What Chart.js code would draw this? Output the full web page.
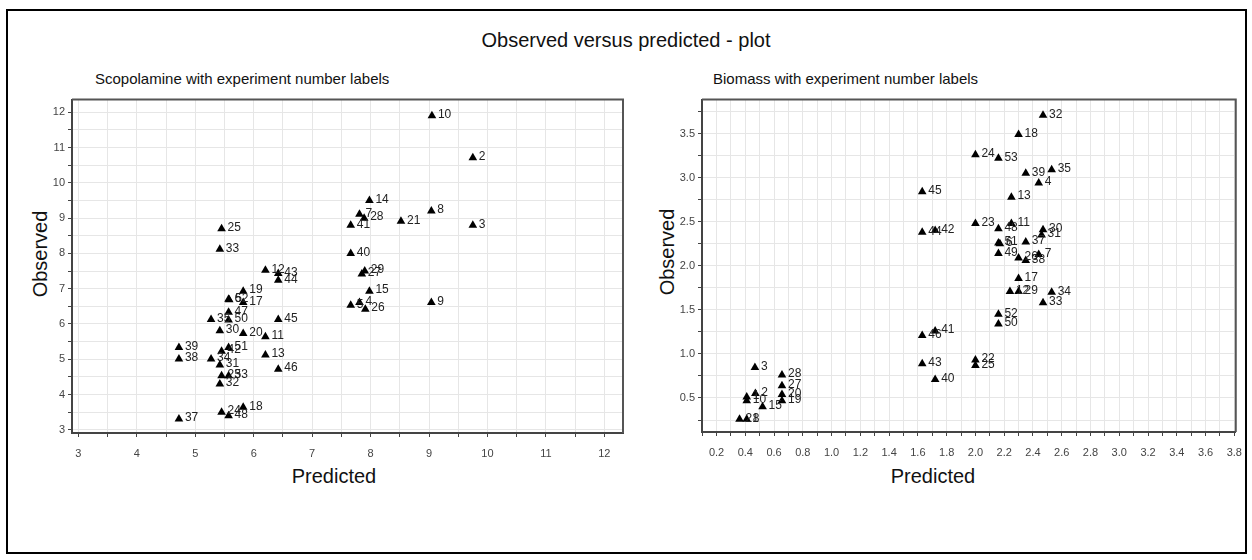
<!DOCTYPE html>
<html>
<head>
<meta charset="utf-8">
<script src="https://cdn.jsdelivr.net/npm/chart.js@4.4.0/dist/chart.umd.min.js"></script>
<style>
  body { margin:0; background:#fff; width:1252px; height:560px; overflow:hidden; position:relative;
         font-family:'Liberation Sans', Arial, sans-serif; }
  .frame { position:absolute; left:6px; top:9px; width:1241px; height:545px; border:2px solid #000; box-sizing:border-box; }
  .t { position:absolute; white-space:nowrap; color:#111; line-height:1; transform:translate(-50%,-50%); }
  .s { position:absolute; white-space:nowrap; color:#111; line-height:1; transform:translateY(-50%); font-size:15px; }
  .rot { transform:translate(-50%,-50%) rotate(-90deg); }
  canvas { position:absolute; }
</style>
</head>
<body>
<div class="frame"></div>
<div class="t" style="left:626px;top:40px;font-size:20px;">Observed versus predicted - plot</div>
<div class="s" style="left:95px;top:78px;">Scopolamine with experiment number labels</div>
<div class="s" style="left:713px;top:78px;">Biomass with experiment number labels</div>
<div class="t" style="left:334px;top:476px;font-size:20px;">Predicted</div>
<div class="t" style="left:933px;top:476px;font-size:20px;">Predicted</div>
<div class="t rot" style="left:40px;top:254px;font-size:20px;">Observed</div>
<div class="t rot" style="left:667px;top:252px;font-size:20px;">Observed</div>
<canvas id="c1" width="640" height="380" style="left:0px;top:90px;"></canvas>
<canvas id="c2" width="612" height="380" style="left:640px;top:90px;"></canvas>
<script>
// ---------- Scopolamine (left) ----------
const scopLabels    = ['10','2','14','7','28','8','21','41','3','25','33','40','12','43','29','27','44','19','6','52','17','47','35','50','45','30','20','11','39','51','42','38','34','31','13','46','23','53','32','18','24','48','37','15','26','4','5','9'];
const scopPredicted = [9.05,9.75,7.98,7.81,7.89,9.04,8.52,7.66,9.75,5.45,5.42,7.66,6.20,6.42,7.90,7.85,6.42,5.82,5.57,5.58,5.82,5.57,5.27,5.57,6.42,5.42,5.82,6.20,4.72,5.57,5.45,4.72,5.27,5.42,6.20,6.42,5.45,5.57,5.42,5.82,5.45,5.57,4.72,7.98,7.91,7.81,7.66,9.04];
const scopObserved  = [11.90,10.71,9.50,9.11,9.00,9.20,8.91,8.80,8.80,8.70,8.12,8.00,7.52,7.43,7.50,7.42,7.24,6.93,6.70,6.69,6.61,6.33,6.13,6.11,6.13,5.81,5.73,5.64,5.33,5.33,5.23,5.01,5.01,4.84,5.12,4.72,4.53,4.53,4.30,3.64,3.50,3.40,3.31,6.93,6.42,6.61,6.53,6.61];
const scopTickValues = [3,3.5,4,4.5,5,5.5,6,6.5,7,7.5,8,8.5,9,9.5,10,10.5,11,11.5,12];
const scopTickLabels = ['3','','4','','5','','6','','7','','8','','9','','10','','11','','12'];

// ---------- Biomass (right) ----------
const bioLabels    = ['45','44','42','32','18','24','53','39','35','4','13','23','11','48','30','31','51','6','37','49','26','7','38','17','12','29','34','33','52','50','22','25','46','41','43','40','3','2','1','10','15','28','27','20','19','21','8'];
const bioPredicted = [1.63,1.63,1.72,2.47,2.30,2.00,2.16,2.35,2.53,2.44,2.25,2.00,2.25,2.16,2.47,2.46,2.16,2.17,2.35,2.16,2.30,2.44,2.35,2.30,2.24,2.30,2.53,2.47,2.16,2.16,2.00,2.00,1.63,1.72,1.63,1.72,0.467,0.47,0.41,0.41,0.52,0.655,0.655,0.655,0.655,0.36,0.41];
const bioObserved  = [2.84,2.38,2.40,3.71,3.49,3.26,3.22,3.05,3.09,2.94,2.78,2.48,2.48,2.42,2.41,2.35,2.26,2.25,2.27,2.14,2.09,2.13,2.06,1.855,1.71,1.71,1.70,1.58,1.45,1.34,0.93,0.87,1.21,1.26,0.89,0.71,0.845,0.55,0.51,0.47,0.40,0.76,0.64,0.54,0.47,0.258,0.258];
const bioXTickValues = [0.1,0.2,0.3,0.4,0.5,0.6,0.7,0.8,0.9,1.0,1.1,1.2,1.3,1.4,1.5,1.6,1.7,1.8,1.9,2.0,2.1,2.2,2.3,2.4,2.5,2.6,2.7,2.8,2.9,3.0,3.1,3.2,3.3,3.4,3.5,3.6,3.7,3.8];
const bioXTickLabels = ['','0.2','','0.4','','0.6','','0.8','','1.0','','1.2','','1.4','','1.6','','1.8','','2.0','','2.2','','2.4','','2.6','','2.8','','3.0','','3.2','','3.4','','3.6','','3.8'];
const bioYTickValues = [0.25,0.5,0.75,1.0,1.25,1.5,1.75,2.0,2.25,2.5,2.75,3.0,3.25,3.5,3.75];
const bioYTickLabels = ['','0.5','','1.0','','1.5','','2.0','','2.5','','3.0','','3.5',''];

const FONT = "'Liberation Sans', Arial, sans-serif";

const pointLabelPlugin = {
  id: 'pointLabels',
  afterDatasetsDraw(chart) {
    const ctx = chart.ctx;
    const labels = chart.options.plugins.pointLabels.labels;
    const meta = chart.getDatasetMeta(0);
    ctx.save();
    ctx.font = '12px ' + FONT;
    ctx.fillStyle = '#222';
    ctx.textAlign = 'left';
    ctx.textBaseline = 'middle';
    meta.data.forEach((pt, i) => {
      ctx.fillText(labels[i], pt.x + 6, pt.y - 1);
    });
    ctx.restore();
  }
};

const framePlugin = {
  id: 'frameBox',
  afterDraw(chart) {
    const a = chart.chartArea, ctx = chart.ctx;
    ctx.save();
    ctx.strokeStyle = '#555';
    ctx.lineWidth = 2;
    ctx.beginPath();
    ctx.moveTo(a.left, a.top);
    ctx.lineTo(a.right, a.top);
    ctx.lineTo(a.right, a.bottom);
    ctx.stroke();
    ctx.restore();
  }
};

function axis(min, max, tickValues, tickLabels, isX, fitSize) {
  return {
    type: 'linear',
    position: isX ? 'bottom' : 'left',
    min: min, max: max,
    afterBuildTicks: s => { s.ticks = tickValues.map(v => ({ value: v })); },
    afterFit: s => { if (isX) s.height = fitSize; else s.width = fitSize; },
    ticks: {
      autoSkip: false, maxRotation: 0, minRotation: 0,
      padding: isX ? 10 : 3,
      color: '#444',
      font: { family: FONT, size: 11 },
      callback: (v, i) => tickLabels[i]
    },
    grid: { color: '#e6e6e6', lineWidth: 1, drawTicks: true, tickLength: 4, tickColor: '#444', tickWidth: 1 },
    border: { display: true, color: '#444', width: 2 }
  };
}

function makeChart(id, labels, xs, ys, xAxis, yAxis, pad) {
  const data = xs.map((x, i) => ({ x: x, y: ys[i] }));
  return new Chart(document.getElementById(id), {
    type: 'scatter',
    data: { datasets: [{
      data: data,
      pointStyle: 'triangle',
      pointRadius: 5,
      pointHoverRadius: 5,
      backgroundColor: '#000',
      borderColor: '#000',
      borderWidth: 0
    }]},
    options: {
      responsive: false,
      animation: false,
      devicePixelRatio: 1,
      layout: { padding: pad },
      plugins: { legend: { display: false }, tooltip: { enabled: false }, pointLabels: { labels: labels } },
      scales: { x: xAxis, y: yAxis }
    },
    plugins: [pointLabelPlugin, framePlugin]
  });
}

makeChart('c1', scopLabels, scopPredicted, scopObserved,
  axis(2.89, 12.32, scopTickValues, scopTickLabels, true, 37),
  axis(2.91, 12.36, scopTickValues, scopTickLabels, false, 72),
  { top: 9, right: 17, left: 0, bottom: 0 });

makeChart('c2', bioLabels, bioPredicted, bioObserved,
  axis(0.099, 3.81, bioXTickValues, bioXTickLabels, true, 38),
  axis(0.114, 3.887, bioYTickValues, bioYTickLabels, false, 62),
  { top: 9, right: 12, left: 0, bottom: 0 });
</script>
</body>
</html>
